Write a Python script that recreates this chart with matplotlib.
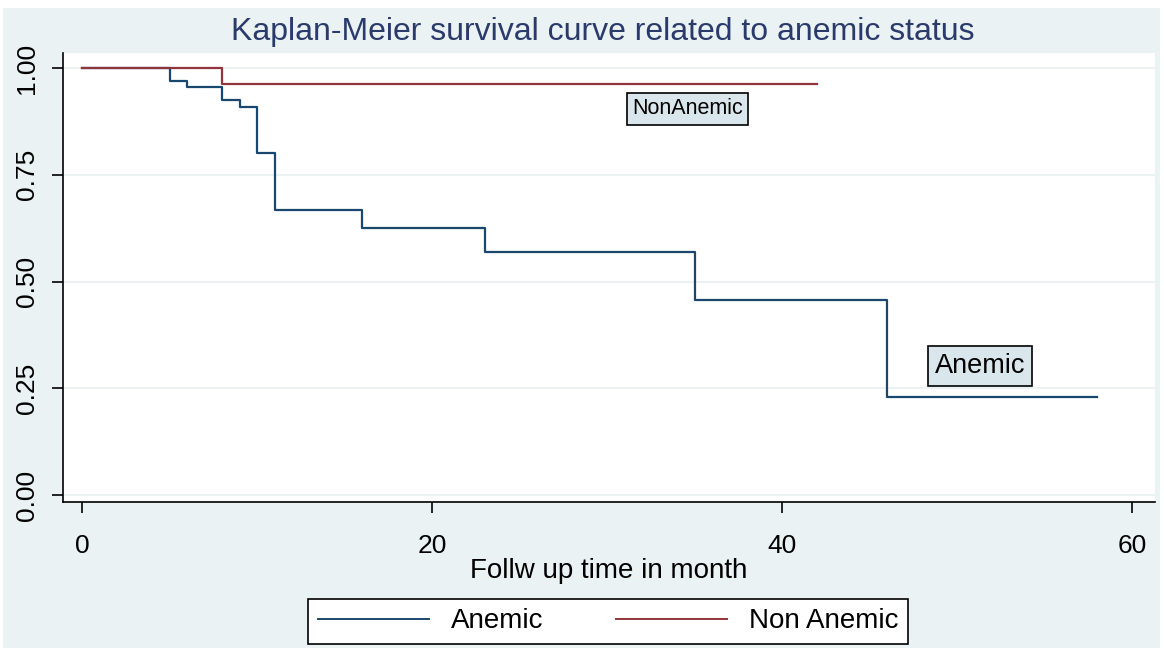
import matplotlib.pyplot as plt
from matplotlib.patches import Rectangle

# Kaplan-Meier step data
anemic_time = [0, 5, 6, 8, 9, 10, 11, 16, 23, 35, 46, 58]
anemic_surv = [1.0, 0.970, 0.956, 0.924, 0.909, 0.800, 0.668, 0.625, 0.570, 0.456, 0.229, 0.229]

non_anemic_time = [0, 8, 42]
non_anemic_surv = [1.0, 0.963, 0.963]

x_ticks = [0, 20, 40, 60]
y_ticks = [0.0, 0.25, 0.50, 0.75, 1.0]
y_tick_labels = ["0.00", "0.25", "0.50", "0.75", "1.00"]

BG = "#eaf2f3"
NAVY = "#1a476f"
MAROON = "#90353b"
FONT = ["Liberation Sans", "DejaVu Sans"]

plt.rcParams["font.family"] = FONT

fig = plt.figure(figsize=(11.64, 6.5), dpi=100)
fig.patch.set_facecolor("white")
# graph region (light blue-grey), inset from the white border
fig.patches.append(Rectangle((3 / 1164, 1 - 648 / 650), 1157 / 1164, 640 / 650,
                             transform=fig.transFigure, facecolor=BG,
                             edgecolor="none", zorder=-10))

ax = fig.add_axes([63 / 1164, 1 - 502 / 650, 1092 / 1164, 449 / 650])
ax.set_facecolor("white")

ax.step(anemic_time, anemic_surv, where="post", color=NAVY, lw=1.6, label="Anemic")
ax.step(non_anemic_time, non_anemic_surv, where="post", color=MAROON, lw=1.6,
        label="Non Anemic")

ax.set_xlim(-1.09, 61.3)
ax.set_ylim(-0.016, 1.035)

ax.set_xticks(x_ticks)
ax.set_yticks(y_ticks)
ax.set_yticklabels(y_tick_labels, rotation=90, va="center")
ax.tick_params(axis="both", direction="out", length=8, width=1.2, labelsize=19,
               colors="black")
ax.tick_params(axis="y", pad=9)
ax.tick_params(axis="x", pad=15)
ax.yaxis.grid(True, color=BG, lw=1.5)
ax.set_axisbelow(True)

for side in ["top", "right"]:
    ax.spines[side].set_visible(False)
for side in ["left", "bottom"]:
    ax.spines[side].set_linewidth(1.2)

ax.set_xlabel("Follw up time in month", fontsize=20, labelpad=0)
fig.text(603 / 1164, 1 - 32 / 650, "Kaplan-Meier survival curve related to anemic status",
         ha="center", va="center", fontsize=23, color="#2a3a6a")

# curve labels
box = dict(boxstyle="square,pad=0.25", facecolor="#d9e6ec", edgecolor="black", lw=1.2)
ax.text(34.6, 0.904, "NonAnemic", fontsize=15.5, ha="center", va="center", bbox=box)
ax.text(51.3, 0.302, "Anemic", fontsize=19.5, ha="center", va="center", bbox=box)

leg = fig.legend(loc="center", bbox_to_anchor=(608 / 1164, 1 - 621.5 / 650), ncol=2,
                 fontsize=20, frameon=True, fancybox=False, handlelength=4.0,
                 columnspacing=2.6, borderpad=0.35, edgecolor="black", framealpha=1)
leg.get_frame().set_linewidth(1.2)
for line in leg.get_lines():
    line.set_linewidth(1.4)

fig.savefig("out.png", dpi=100)
